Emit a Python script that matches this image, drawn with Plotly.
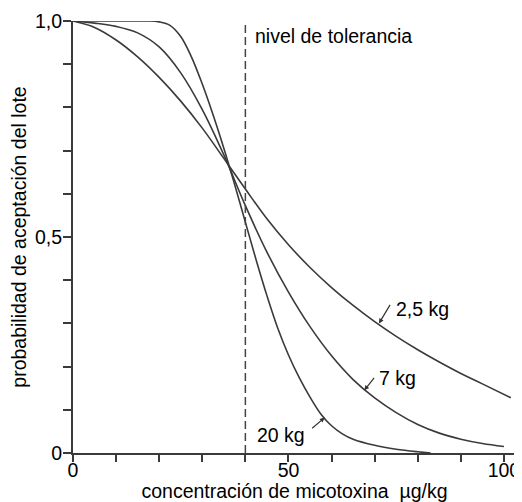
import plotly.graph_objects as go

# ---- data ----
x_25 = [0, 5, 10, 15, 20, 25, 30, 35, 40, 45, 50, 55, 60, 65, 70, 75, 80, 85, 90, 95, 101.6]
y_25 = [1, 0.985, 0.956, 0.917, 0.8695, 0.8145, 0.752, 0.682, 0.611, 0.542, 0.482, 0.4295, 0.383, 0.3415, 0.304, 0.27, 0.239, 0.2105, 0.184, 0.16, 0.128]

x_7 = [0, 5, 10, 15, 20, 25, 30, 35, 40, 45, 50, 55, 60, 65, 70, 75, 80, 85, 90, 95, 100]
y_7 = [1, 0.995, 0.9875, 0.9725, 0.94, 0.88, 0.795, 0.69, 0.5725, 0.465, 0.3725, 0.2925, 0.225, 0.17, 0.1275, 0.0935, 0.066, 0.046, 0.032, 0.022, 0.015]

x_20 = [0, 10, 15, 17.5, 20, 22.5, 25, 27.5, 30, 32.5, 35, 37.5, 40, 42.5, 45, 47.5, 50, 52.5, 55, 57.5, 60, 62.5, 65, 70, 75, 80, 83]
y_20 = [1, 1, 1, 1, 0.998, 0.99, 0.964, 0.9165, 0.854, 0.783, 0.7055, 0.6218, 0.5343, 0.4468, 0.3643, 0.2893, 0.2268, 0.1743, 0.1293, 0.0905, 0.063, 0.0443, 0.0318, 0.0178, 0.0088, 0.0028, 0]

tolerance = 40
x_ticks = [0, 50, 100]
x_tick_labels = ["0", "50", "100"]
y_ticks = [0, 0.5, 1.0]
y_tick_labels = ["0", "0,5", "1,0"]

labels = ["2,5 kg", "7 kg", "20 kg"]
label_pos = [(74.5, 0.334), (70.6, 0.173), (42.3, 0.041)]
pointer_tip = [(71.0, 0.30), (67.6, 0.145), (58.4, 0.082)]
pointer_off = [(12, -20), (11, -14), (-14, 12)]

FONT = "Liberation Sans, Arial, sans-serif"
FS = 19.5
LINE = "#3a3a3a"
AXIS = "#3a3a3a"

fig = go.Figure()
for xs, ys in [(x_25, y_25), (x_7, y_7), (x_20, y_20)]:
    fig.add_trace(go.Scatter(x=xs, y=ys, mode="lines",
                             line=dict(color=LINE, width=1.6, shape="spline", smoothing=1.0),
                             cliponaxis=False, showlegend=False, hoverinfo="skip"))

fig.add_shape(type="line", x0=tolerance, x1=tolerance, y0=0, y1=1, xref="x", yref="y",
              line=dict(color="#444", width=1.5, dash="8px,4px"))

fig.add_annotation(x=tolerance, y=0.965, xref="x", yref="y", text="nivel de tolerancia",
                   showarrow=False, xanchor="left", xshift=8,
                   font=dict(family=FONT, size=FS, color="black"))

for t, (lx, ly) in zip(labels, label_pos):
    fig.add_annotation(x=lx, y=ly, xref="x", yref="y", text=t, showarrow=False,
                       xanchor="left", yanchor="middle",
                       font=dict(family=FONT, size=FS, color="black"))
for (px, py), (ox, oy) in zip(pointer_tip, pointer_off):
    fig.add_annotation(x=px, y=py, xref="x", yref="y", text="", showarrow=True,
                       ax=ox, ay=oy, arrowhead=2, arrowsize=0.8, arrowwidth=1.2,
                       arrowcolor="#333")

# the page body has an 8px margin, so the figure is sized to fit the 522x502 window
fig.update_layout(
    width=514, height=494,
    margin=dict(l=65, r=2, t=11, b=49),
    paper_bgcolor="white", plot_bgcolor="white",
    font=dict(family=FONT, size=FS, color="black"),
    xaxis=dict(range=[0, 102.8], showgrid=False, zeroline=False,
               showline=True, linecolor=AXIS, linewidth=2.2,
               tickvals=x_ticks, ticktext=x_tick_labels,
               ticks="outside", ticklen=7, tickwidth=1.5, tickcolor=AXIS,
               ticklabelstandoff=-9, ticklabeloverflow="allow",
               minor=dict(dtick=10, tick0=0, ticks="outside", ticklen=7, tickwidth=1.5, tickcolor=AXIS),
               tickfont=dict(family=FONT, size=FS, color="black"),
               title=dict(text="concentración de micotoxina  µg/kg", standoff=2,
                          font=dict(family=FONT, size=FS, color="black"))),
    yaxis=dict(range=[0, 1.0], showgrid=False, zeroline=False,
               showline=True, linecolor=AXIS, linewidth=2.2,
               tickvals=y_ticks, ticktext=y_tick_labels,
               ticks="outside", ticklen=8, tickwidth=1.5, tickcolor=AXIS,
               ticklabelstandoff=-3, ticklabeloverflow="allow",
               minor=dict(dtick=0.1, tick0=0, ticks="outside", ticklen=8, tickwidth=1.5, tickcolor=AXIS),
               tickfont=dict(family=FONT, size=FS, color="black"),
               title=dict(text="probabilidad de aceptación del lote", standoff=8,
                          font=dict(family=FONT, size=FS, color="black"))),
)

fig.write_html("out.html")
